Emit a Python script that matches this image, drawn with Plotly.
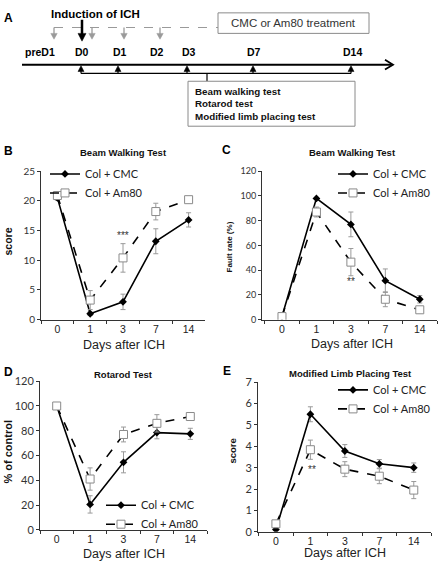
import plotly.graph_objects as go

# ---------------- data ----------------
days = ["0", "1", "3", "7", "14"]

beam_score_cmc = [20.5, 1.0, 3.0, 13.2, 16.8]
beam_score_cmc_err = [0.4, 0.3, 1.3, 2.1, 1.2]
beam_score_am80 = [20.9, 3.3, 10.4, 18.2, 20.2]
beam_score_am80_err = [0.3, 1.6, 2.4, 1.4, 0.4]

fault_cmc = [2.5, 98, 77, 31.5, 16.5]
fault_cmc_err = [0, 0, 10, 9.5, 3]
fault_am80 = [2.5, 87, 46.5, 16.5, 8]
fault_am80_err = [0, 4, 11, 6, 2]

rota_cmc = [100, 20.5, 54.5, 78.5, 77.5]
rota_cmc_err = [0, 7, 8.5, 5, 4.5]
rota_am80 = [100, 41, 77, 86, 91.5]
rota_am80_err = [0, 9, 6, 7, 3]

mlpt_cmc = [0.1, 5.5, 3.78, 3.18, 3.0]
mlpt_cmc_err = [0, 0.35, 0.3, 0.2, 0.22]
mlpt_am80 = [0.37, 3.84, 2.93, 2.6, 1.95]
mlpt_am80_err = [0.1, 0.45, 0.35, 0.35, 0.4]

series_names = ["Col + CMC", "Col + Am80"]

# timeline (schematic units of a hidden axis)
timeline_labels = ["preD1", "D0", "D1", "D2", "D3", "D7", "D14"]
timeline_label_pos = [40, 82, 120, 157, 189, 254, 352]
treatment_pos = [54, 92, 124, 160]
test_pos = [81, 118, 187, 253, 351]
test_names = ["Beam walking test", "Rotarod test", "Modified limb placing test"]
induction_pos = 82

W, H = 440, 569
def px(x): return x / W
def py(y): return 1 - y / H

FONT = "Liberation Sans, Arial, sans-serif"
TICKFONT = "Lato, Liberation Sans, sans-serif"
GRAY_ERR = "#9a9a9a"

fig = go.Figure()

panels = [
    ("x", "y", beam_score_cmc, beam_score_cmc_err, beam_score_am80, beam_score_am80_err, "legend"),
    ("x2", "y2", fault_cmc, fault_cmc_err, fault_am80, fault_am80_err, "legend2"),
    ("x3", "y3", rota_cmc, rota_cmc_err, rota_am80, rota_am80_err, "legend3"),
    ("x4", "y4", mlpt_cmc, mlpt_cmc_err, mlpt_am80, mlpt_am80_err, "legend4"),
]

for xa, ya, c, ce, a, ae, lg in panels:
    fig.add_trace(go.Scatter(
        x=days, y=c, xaxis=xa, yaxis=ya, name=series_names[0], legend=lg,
        mode="lines+markers",
        line=dict(color="black", width=1.6),
        marker=dict(symbol="diamond", size=6, color="black"),
        error_y=dict(type="data", array=ce, color=GRAY_ERR, thickness=1, width=2.5),
    ))
    fig.add_trace(go.Scatter(
        x=days, y=a, xaxis=xa, yaxis=ya, name=series_names[1], legend=lg,
        mode="lines+markers",
        line=dict(color="black", width=1.6, dash="dash"),
        marker=dict(symbol="square", size=8, color="white", line=dict(color="#8a8a8a", width=1)),
        error_y=dict(type="data", array=ae, color=GRAY_ERR, thickness=1, width=2.5),
    ))

def xaxis(dom, rng, ya):
    return dict(domain=dom, anchor=ya, type="category", categoryorder="array",
                categoryarray=days, range=rng, showline=True, linecolor="#333",
                linewidth=1, ticks="outside", ticklen=3, tickcolor="#333",
                tickson="boundaries", showgrid=False, zeroline=False,
                tickfont=dict(family=FONT, size=10.5, color="#222"), fixedrange=True)

def yaxis(dom, rng, dtick, xa, fs):
    return dict(domain=dom, anchor=xa, range=rng, dtick=dtick, showline=True,
                linecolor="#333", linewidth=1, ticks="outside", ticklen=3,
                tickcolor="#333", showgrid=False, zeroline=False,
                tickfont=dict(family=TICKFONT, size=fs, color="#333"), fixedrange=True)

leg_common = dict(bgcolor="rgba(0,0,0,0)", borderwidth=0, tracegroupgap=0,
                  font=dict(family=TICKFONT, size=11, color="#222"), yanchor="top")

annotations = []
shapes = []

# panel labels and titles
for t, x, y in [("A", 8, 11), ("B", 8, 147), ("C", 226, 146), ("D", 8, 374), ("E", 227, 373)]:
    annotations.append(dict(text=f"<b>{t}</b>", x=px(x), y=py(y), xref="paper", yref="paper",
                            showarrow=False, font=dict(family=FONT, size=12, color="black"),
                            xanchor="center", yanchor="middle"))
for t, x, y in [("<b>Beam Walking Test</b>", 123, 149), ("<b>Beam Walking Test</b>", 352, 149),
                ("<b>Rotarod Test</b>", 123, 376), ("<b>Modified Limb Placing Test</b>", 350, 375)]:
    annotations.append(dict(text=t, x=px(x), y=py(y), xref="paper", yref="paper",
                            showarrow=False, font=dict(family=FONT, size=9.5, color="#111"),
                            xanchor="center", yanchor="middle"))
# x titles
for x, y in [(124, 346), (352, 345), (124, 560), (345, 559)]:
    annotations.append(dict(text="Days after ICH", x=px(x), y=py(y), xref="paper", yref="paper",
                            showarrow=False, font=dict(family=FONT, size=12.5, color="#222"),
                            xanchor="center", yanchor="middle"))
# y titles
for t, x, y, fs in [("<b>score</b>", 8, 240, 10.5), ("<b>Fault rate (%)</b>", 229, 246, 8),
                    ("<b>% of control</b>", 8, 455, 11), ("<b>score</b>", 233, 455, 9.5)]:
    annotations.append(dict(text=t, x=px(x), y=py(y), xref="paper", yref="paper",
                            showarrow=False, textangle=-90,
                            font=dict(family=FONT, size=fs, color="#111"),
                            xanchor="center", yanchor="middle"))
# significance stars (category index positions)
for t, xr, yr, xv, yv, xs in [("***", "x", "y", 2, 14.2, 0), ("**", "x2", "y2", 2, 31, 0),
                              ("**", "x4", "y4", 1, 2.9, 2)]:
    annotations.append(dict(text=t, x=xv, y=yv, xref=xr, yref=yr, xshift=xs, showarrow=False,
                            font=dict(family=FONT, size=10, color="#333333")))

# ---------------- panel A (timeline schematic) ----------------
X5, Y5 = "x5", "y5"
def seg(x0, y0, x1, y1, color="black", width=1, dash="solid"):
    shapes.append(dict(type="line", xref=X5, yref=Y5, x0=x0, y0=y0, x1=x1, y1=y1,
                       line=dict(color=color, width=width, dash=dash)))
def tri(path, color):
    shapes.append(dict(type="path", xref=X5, yref=Y5, path=path, fillcolor=color,
                       line=dict(color=color, width=0.5)))

# treatment dashed line and box
seg(treatment_pos[0], 21, 218, 21, "#9a9a9a", 1.2, "dash")
shapes.append(dict(type="rect", xref=X5, yref=Y5, x0=218, y0=6, x1=369, y1=27,
                   line=dict(color="#8a8a8a", width=1), fillcolor="white"))
annotations.append(dict(text="CMC or Am80 treatment", x=293.5, y=16.5, xref=X5, yref=Y5,
                        showarrow=False, font=dict(family=FONT, size=11.5, color="#333")))
for xp in treatment_pos:
    seg(xp, 21, xp, 28, "#9a9a9a", 1.3)
    tri(f"M {xp-3.2},27 L {xp+3.2},27 L {xp},33 Z", "#9a9a9a")
# induction arrow
seg(induction_pos, 13, induction_pos, 28, "black", 2.5)
tri(f"M {induction_pos-4},27 L {induction_pos+4},27 L {induction_pos},35 Z", "black")
annotations.append(dict(text="<b>Induction of ICH</b>", x=95, y=7, xref=X5, yref=Y5,
                        showarrow=False, font=dict(family=FONT, size=11.5, color="black")))
# day labels
for lab, xp in zip(timeline_labels, timeline_label_pos):
    annotations.append(dict(text=f"<b>{lab}</b>", x=xp, y=46, xref=X5, yref=Y5,
                            showarrow=False, font=dict(family=FONT, size=10.5, color="black")))
# main time axis
seg(22, 59, 391, 59, "black", 2)
shapes.append(dict(type="path", xref=X5, yref=Y5, path="M 385,54 L 393,59 L 385,64",
                   line=dict(color="black", width=1.8)))
# test markers and bracket
for xp in test_pos:
    seg(xp, 64, xp, 68, "black", 1.2)
    tri(f"M {xp-3},66 L {xp+3},66 L {xp},60 Z", "black")
seg(test_pos[0], 68, test_pos[-1], 68, "black", 1.2)
seg(207, 68, 207, 76, "black", 1.2)
shapes.append(dict(type="rect", xref=X5, yref=Y5, x0=188, y0=76, x1=355, y1=122,
                   line=dict(color="#8a8a8a", width=1), fillcolor="white"))
for i, name in enumerate(test_names):
    annotations.append(dict(text=f"<b>{name}</b>", x=193, y=86 + 13 * i, xref=X5, yref=Y5,
                            showarrow=False, xanchor="left",
                            font=dict(family=FONT, size=9.8, color="#111")))

fig.update_layout(
    width=W, height=H, margin=dict(l=0, r=0, t=0, b=0),
    paper_bgcolor="white", plot_bgcolor="rgba(0,0,0,0)",
    showlegend=True, hovermode=False,
    xaxis=xaxis([px(41), px(205)], [-0.5, 4.5], "y"),
    yaxis=yaxis([py(320), py(168)], [0, 25], 5, "x", 10),
    xaxis2=xaxis([px(262), px(437)], [-0.58, 4.5], "y2"),
    yaxis2=yaxis([py(320), py(168)], [0, 120], 20, "x2", 9),
    xaxis3=xaxis([px(40), px(207)], [-0.5, 4.5], "y3"),
    yaxis3=yaxis([py(535), py(383)], [0, 120], 20, "x3", 11),
    xaxis4=xaxis([px(258), px(431)], [-0.52, 4.5], "y4"),
    yaxis4=yaxis([py(537), py(384)], [0, 7], 1, "x4", 11),
    xaxis5=dict(domain=[0, 1], anchor="y5", range=[0, 440], visible=False, fixedrange=True),
    yaxis5=dict(domain=[py(145), 1], anchor="x5", range=[145, 0], visible=False, fixedrange=True),
    legend=dict(x=px(45), y=py(156), xanchor="left", **leg_common),
    legend2=dict(x=px(436), y=py(156), xanchor="right", **leg_common),
    legend3=dict(x=px(204), y=py(495), xanchor="right", **leg_common),
    legend4=dict(x=px(436), y=py(377), xanchor="right", **leg_common),
    annotations=annotations,
    shapes=shapes,
)

fig.write_html("out.html", config={"displayModeBar": False},
               post_script="document.body.style.margin='0px';document.body.style.overflow='hidden';")
